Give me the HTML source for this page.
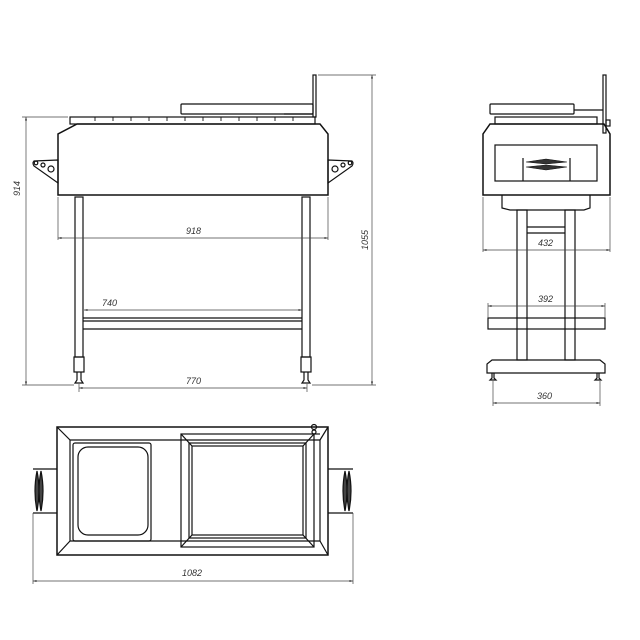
<!DOCTYPE html>
<html><head><meta charset="utf-8"><style>
html,body{margin:0;padding:0;background:#fff;}
svg{display:block}
text{font-family:"Liberation Sans",sans-serif;font-style:italic;font-size:9px;fill:#333}
</style></head><body>
<svg width="640" height="640" viewBox="0 0 640 640" xmlns="http://www.w3.org/2000/svg">
<defs>
<marker id="a" viewBox="0 0 10 10" refX="10" refY="5" markerWidth="7" markerHeight="5" orient="auto-start-reverse"><path d="M0,2 L10,5 L0,8 z" fill="#333"/></marker>
</defs>
<g fill="none" stroke="#111" stroke-width="1.2">
<!-- FRONT VIEW -->
<rect x="181" y="104" width="132" height="10" rx="1"/>
<line x1="284" y1="114" x2="313" y2="114"/>
<rect x="313" y="75" width="3" height="42"/>
<rect x="70" y="117" width="245" height="7"/>
<g stroke-width="0.9">
<line x1="95" y1="117" x2="95" y2="121"/><line x1="113" y1="117" x2="113" y2="121"/><line x1="131" y1="117" x2="131" y2="121"/><line x1="149" y1="117" x2="149" y2="121"/><line x1="167" y1="117" x2="167" y2="121"/><line x1="185" y1="117" x2="185" y2="121"/><line x1="203" y1="117" x2="203" y2="121"/><line x1="221" y1="117" x2="221" y2="121"/><line x1="239" y1="117" x2="239" y2="121"/><line x1="257" y1="117" x2="257" y2="121"/><line x1="275" y1="117" x2="275" y2="121"/><line x1="293" y1="117" x2="293" y2="121"/>
</g>
<path d="M77,124 L320,124 L328,134 L328,195 L58,195 L58,134 Z" stroke-width="1.5"/>
<path d="M58,160 L34,161 Q32,163 34,166 L58,183 Z"/>
<circle cx="36" cy="163" r="1.8"/><circle cx="43" cy="165" r="2"/><circle cx="51" cy="169" r="3"/>
<path d="M328,160 L352,161 Q354,163 352,166 L328,183 Z"/>
<circle cx="350" cy="163" r="1.8"/><circle cx="343" cy="165" r="2"/><circle cx="335" cy="169" r="3"/>
<rect x="75" y="197" width="8" height="160"/>
<rect x="302" y="197" width="8" height="160"/>
<rect x="74" y="357" width="10" height="15"/>
<rect x="301" y="357" width="10" height="15"/>
<path d="M77,372 L77,380 L75,383 L83,383 L81,380 L81,372"/>
<path d="M304,372 L304,380 L302,383 L310,383 L308,380 L308,372"/>
<line x1="83" y1="318" x2="302" y2="318"/><line x1="83" y1="321" x2="302" y2="321"/><line x1="83" y1="329" x2="302" y2="329"/>
</g>
<g fill="none" stroke="#444" stroke-width="0.7">
<line x1="58" y1="197" x2="58" y2="240"/><line x1="328" y1="197" x2="328" y2="240"/>
<line x1="58" y1="238" x2="328" y2="238" marker-start="url(#a)" marker-end="url(#a)"/>
<line x1="84" y1="310" x2="302" y2="310" marker-start="url(#a)" marker-end="url(#a)"/>
<line x1="79" y1="384" x2="79" y2="392"/><line x1="307" y1="384" x2="307" y2="392"/>
<line x1="79" y1="388" x2="307" y2="388" marker-start="url(#a)" marker-end="url(#a)"/>
<line x1="318" y1="75" x2="376" y2="75"/><line x1="312" y1="385" x2="376" y2="385"/>
<line x1="372" y1="75" x2="372" y2="385" marker-start="url(#a)" marker-end="url(#a)"/>
<line x1="22" y1="117" x2="68" y2="117"/><line x1="22" y1="385" x2="74" y2="385"/>
<line x1="26" y1="117" x2="26" y2="385" marker-start="url(#a)" marker-end="url(#a)"/>
</g>
<text x="186" y="234">918</text>
<text x="102" y="306">740</text>
<text x="186" y="384">770</text>
<text transform="translate(368,250) rotate(-90)">1055</text>
<text transform="translate(20,196) rotate(-90)">914</text>

<!-- SIDE VIEW -->
<g fill="none" stroke="#111" stroke-width="1.2">
<rect x="490" y="104" width="84" height="10" rx="1"/>
<line x1="574" y1="110" x2="603" y2="110"/>
<rect x="495" y="117" width="102" height="7"/>
<rect x="603" y="75" width="3" height="58"/>
<rect x="606" y="120" width="4" height="6"/>
<path d="M490,124 L604,124 L610,134 L610,195 L483,195 L483,134 Z" stroke-width="1.5"/>
<rect x="495" y="145" width="102" height="36"/>
<line x1="523" y1="158" x2="523" y2="181"/><line x1="570" y1="158" x2="570" y2="181"/>
<path d="M526,162 L546,159 L567,162 L546,164 Z" fill="#333" stroke-width="0.6"/>
<path d="M526,167 L546,165 L567,167 L546,170 Z" fill="#333" stroke-width="0.6"/>
<path d="M502,195 L502,208 L510,210 L584,210 L590,208 L590,195"/>
<rect x="517" y="210" width="10" height="150"/>
<rect x="565" y="210" width="10" height="150"/>
<line x1="527" y1="227" x2="565" y2="227"/><line x1="527" y1="233" x2="565" y2="233"/>
<rect x="488" y="318" width="117" height="11"/>
<path d="M492,360 L600,360 L605,364 L605,373 L487,373 L487,364 Z"/>
<path d="M492,373 L492,378 L490,380 L496,380 L494,378 L494,373"/>
<path d="M597,373 L597,378 L595,380 L601,380 L599,378 L599,373"/>
</g>
<g fill="none" stroke="#444" stroke-width="0.7">
<line x1="483" y1="197" x2="483" y2="252"/><line x1="610" y1="197" x2="610" y2="252"/>
<line x1="483" y1="250" x2="610" y2="250" marker-start="url(#a)" marker-end="url(#a)"/>
<line x1="488" y1="303" x2="488" y2="318"/><line x1="605" y1="303" x2="605" y2="318"/>
<line x1="488" y1="306" x2="605" y2="306" marker-start="url(#a)" marker-end="url(#a)"/>
<line x1="493" y1="381" x2="493" y2="406"/><line x1="600" y1="381" x2="600" y2="406"/>
<line x1="493" y1="403" x2="600" y2="403" marker-start="url(#a)" marker-end="url(#a)"/>
</g>
<text x="538" y="246">432</text>
<text x="538" y="302">392</text>
<text x="537" y="399">360</text>

<!-- TOP VIEW -->
<g fill="none" stroke="#111" stroke-width="1.2">
<rect x="57" y="427" width="271" height="128" stroke-width="1.5"/>
<path d="M70,440 L320,440 L320,541 L70,541 Z"/>
<line x1="57" y1="427" x2="70" y2="440"/><line x1="57" y1="555" x2="70" y2="541"/>
<line x1="328" y1="427" x2="320" y2="440"/><line x1="328" y1="555" x2="320" y2="541"/>
<rect x="73" y="443" width="78" height="98" rx="2"/>
<rect x="78" y="447" width="70" height="88" rx="10"/>
<rect x="181" y="434" width="133" height="113"/>
<rect x="189" y="443" width="117" height="95"/>
<rect x="192" y="446" width="111" height="89"/>
<line x1="181" y1="434" x2="192" y2="446"/><line x1="314" y1="434" x2="303" y2="446"/>
<line x1="181" y1="547" x2="192" y2="535"/><line x1="314" y1="547" x2="303" y2="535"/>
<line x1="314" y1="434" x2="320" y2="434"/>
<circle cx="314" cy="427" r="2.5"/><circle cx="314" cy="432" r="2"/>
<line x1="33" y1="469" x2="57" y2="469"/><line x1="33" y1="513" x2="57" y2="513"/>
<line x1="328" y1="469" x2="353" y2="469"/><line x1="328" y1="513" x2="353" y2="513"/>
<path d="M37,471 Q33,491 37,511 Q41,491 37,471 Z" fill="#444"/>
<path d="M41,471 Q37,491 41,511 Q45,491 41,471 Z" fill="#444"/>
<path d="M345,471 Q341,491 345,511 Q349,491 345,471 Z" fill="#444"/>
<path d="M349,471 Q345,491 349,511 Q353,491 349,471 Z" fill="#444"/>
</g>
<g fill="none" stroke="#444" stroke-width="0.7">
<line x1="33" y1="513" x2="33" y2="584"/><line x1="353" y1="513" x2="353" y2="584"/>
<line x1="33" y1="581" x2="353" y2="581" marker-start="url(#a)" marker-end="url(#a)"/>
</g>
<text x="182" y="576">1082</text>
</svg>
</body></html>
